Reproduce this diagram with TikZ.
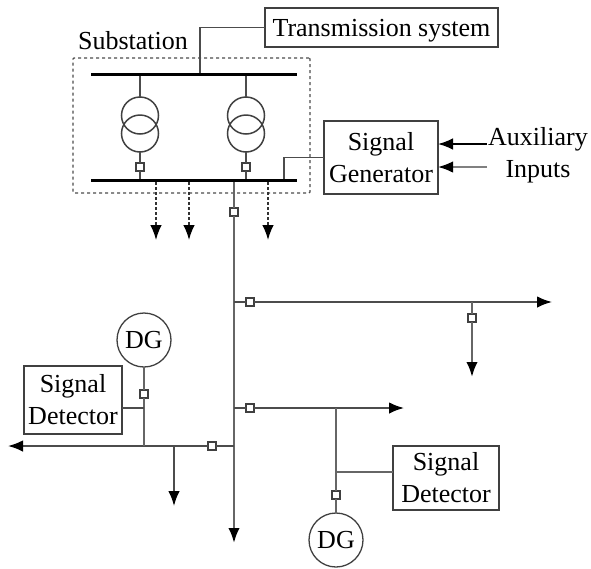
\documentclass[tikz,border=0pt]{standalone}
\usepackage{fontspec}
\setmainfont{Liberation Serif}
\usetikzlibrary{arrows.meta}
\tikzset{
	line/.style={draw=black!70,line width=1.7pt},
	feeder/.style={draw=black!60,line width=2.4pt},
	tip/.style={-{Latex[length=15pt,width=11.5pt,color=black]}},
	busbar/.style={fill=black,inner sep=0pt,outer sep=0pt,minimum height=3pt},
	breaker/.style={draw=black!75,fill=white,line width=1.4pt,rectangle,inner sep=0pt,outer sep=0pt,minimum size=8pt},
	winding/.style={draw=black!75,line width=1.5pt,circle,inner sep=0pt,outer sep=0pt,minimum size=37pt},
	gen/.style={draw=black!75,line width=1.3pt,circle,inner sep=0pt,outer sep=0pt,minimum size=54pt},
	label/.style={align=center,inner sep=0pt}
}
\begin{document}
\begin{tikzpicture}[x=1pt,y=-1pt,font=\fontsize{26}{32}\selectfont]
	\useasboundingbox (0,0) rectangle (591,568);

	\begin{scope}[every node/.style={draw=black!75,line width=1.5pt,rectangle,align=center,inner sep=0pt,outer sep=0pt}]
		\node[minimum width=233pt,minimum height=39pt,text depth=0pt] (trans) at (381.5,27.5) {Transmission system};
		\node[minimum width=114pt,minimum height=73pt] (siggen) at (381,157.5) {Signal\\Generator};
		\node[minimum width=98pt,minimum height=68pt] (det_l) at (73,400) {Signal\\Detector};
		\node[minimum width=106pt,minimum height=64pt] (det_r) at (446,478) {Signal\\Detector};
	\end{scope}

	\node[draw=black!70,dashed,line width=1.3pt,rounded corners=1pt,minimum width=237pt,minimum height=135pt,inner sep=0pt] (sub) at (191.5,125.5) {};
	\node[label] (sub_txt) at (133,41) {Substation};
	\node[label] (aux) at (538,155) {Auxiliary\\Inputs};

	\node[busbar,minimum width=206pt] (bus_t) at (194,74) {};
	\node[busbar,minimum width=206pt] (bus_b) at (194,180.5) {};

	% transformers
	\node[winding] (tr_a1) at (140,115.5) {};
	\node[winding] (tr_a2) at (140,133.5) {};
	\node[winding] (tr_b1) at (246,115.5) {};
	\node[winding] (tr_b2) at (246,133.5) {};

	\node[breaker] (br_a) at (140,167) {};
	\node[breaker] (br_b) at (246,167) {};
	\node[breaker] (br_m) at (234,212) {};
	\node[breaker] (br_1) at (250,302) {};
	\node[breaker] (br_2) at (250,408) {};
	\node[breaker] (br_3) at (212,446) {};
	\node[breaker] (br_4) at (472,318) {};
	\node[breaker] (br_5) at (144,394) {};
	\node[breaker] (br_6) at (336,495) {};

	\node[gen] (dg_l) at (144,340) {DG};
	\node[gen] (dg_r) at (336,540) {DG};

	\coordinate (j_1) at (234,302);
	\coordinate (j_2) at (234,408);
	\coordinate (j_3) at (234,446);
	\coordinate (j_4) at (472,302);
	\coordinate (j_5) at (336,408);
	\coordinate (j_6) at (144,446);
	\coordinate (j_7) at (174,446);
	\coordinate (j_8) at (144,408);
	\coordinate (j_9) at (336,472);
	\coordinate (end_m) at (234,543);
	\coordinate (end_1) at (552,302);
	\coordinate (end_2) at (404,408);
	\coordinate (end_3) at (8,446);
	\coordinate (end_4) at (472,377);
	\coordinate (end_5) at (174,506);
	\coordinate (load_a) at (156,240);
	\coordinate (load_b) at (189,240);
	\coordinate (load_c) at (268,240);
	\coordinate (aux_a) at (487,144);
	\coordinate (aux_b) at (487,167);

	% substation connections
	\draw[line] (trans.west) -| (bus_t.north -| 200,0);
	\draw[line] (bus_t.south -| tr_a1) -- (tr_a1.north);
	\draw[line] (bus_t.south -| tr_b1) -- (tr_b1.north);
	\draw[line] (tr_a2.south) -- (br_a.north);
	\draw[line] (tr_b2.south) -- (br_b.north);
	\draw[line] (br_a.south) -- (bus_b.north -| br_a);
	\draw[line] (br_b.south) -- (bus_b.north -| br_b);
	\draw[line] (siggen.west) -| (bus_b.north -| 284,0);

	\draw[black!80,line width=1.5pt,densely dashed,tip] (bus_b.south -| load_a) -- (load_a);
	\draw[black!80,line width=1.5pt,densely dashed,tip] (bus_b.south -| load_b) -- (load_b);
	\draw[black!80,line width=1.5pt,densely dashed,tip] (bus_b.south -| load_c) -- (load_c);

	\draw[black,line width=1.5pt,tip] (aux_a) -- (aux_a -| siggen.east);
	\draw[black!50,line width=1.8pt,tip] (aux_b) -- (aux_b -| siggen.east);

	% main feeder
	\draw[feeder] (bus_b.south -| br_m) -- (br_m.north);
	\draw[feeder,tip] (br_m.south) -- (end_m);
	\draw[line] (j_1) -- (br_1.west);
	\draw[line,tip] (br_1.east) -- (end_1);
	\draw[line] (j_2) -- (br_2.west);
	\draw[line,tip] (br_2.east) -- (end_2);
	\draw[line] (j_3) -- (br_3.east);
	\draw[line,tip] (br_3.west) -- (end_3);
	\draw[feeder] (j_4) -- (br_4.north);
	\draw[feeder,tip] (br_4.south) -- (end_4);
	\draw[line,tip] (j_7) -- (end_5);

	% DG branches
	\draw[feeder] (dg_l.south) -- (br_5.north);
	\draw[feeder] (br_5.south) -- (j_6);
	\draw[line] (det_l.east |- j_8) -- (j_8);
	\draw[feeder] (j_5) -- (br_6.north);
	\draw[feeder] (br_6.south) -- (dg_r.north);
	\draw[feeder] (det_r.west |- j_9) -- (j_9);
\end{tikzpicture}
\end{document}
